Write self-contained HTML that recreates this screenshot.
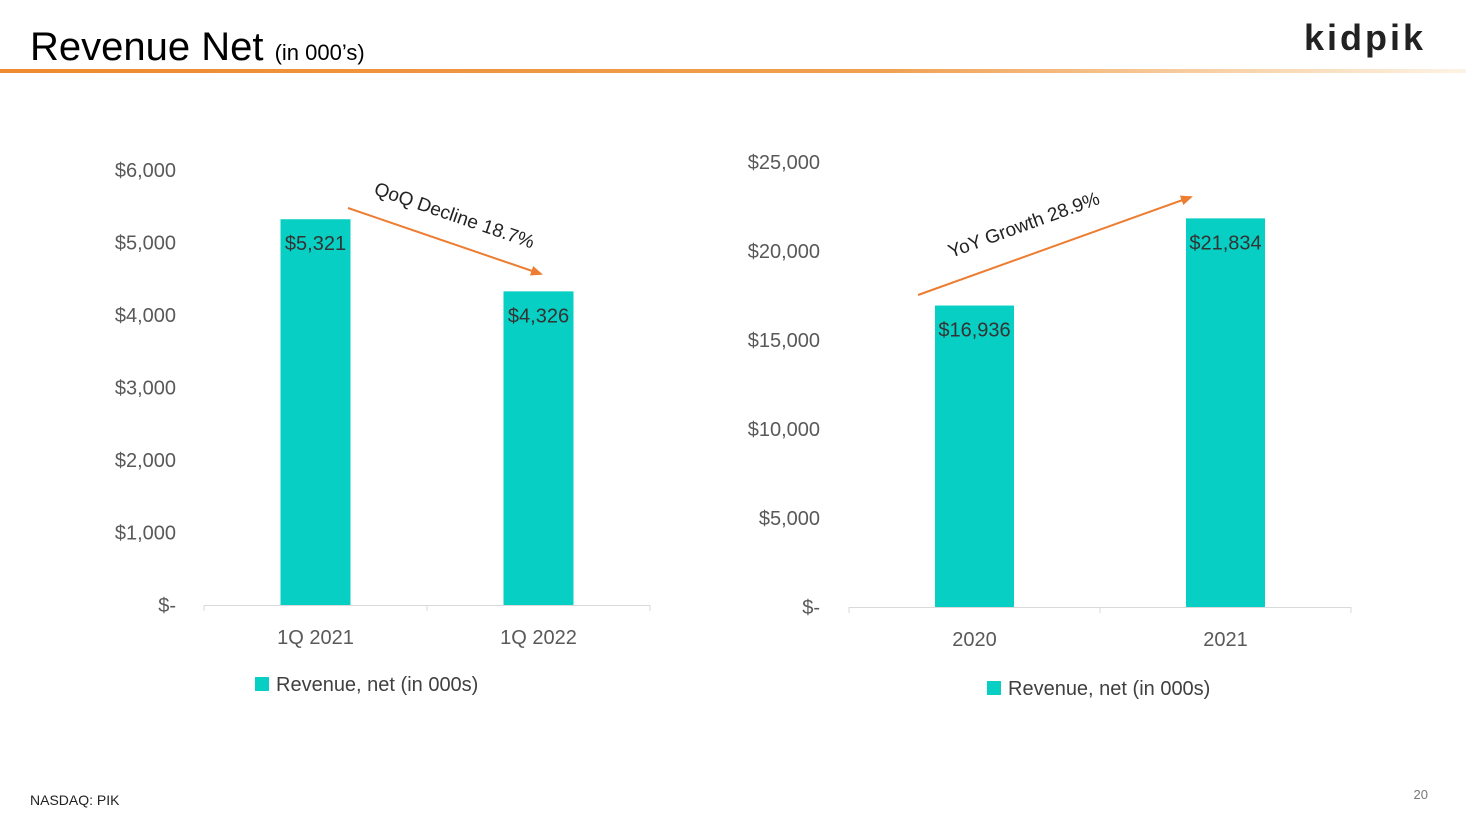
<!DOCTYPE html>
<html><head><meta charset="utf-8"><style>
body{margin:0;width:1466px;height:824px;overflow:hidden;background:#fff;font-family:"Liberation Sans","DejaVu Sans",sans-serif}
svg{position:absolute;left:0;top:0}
</style></head><body>
<svg id="s" width="1466" height="824">
<defs><linearGradient id="g" x1="0" x2="1"><stop offset="0" stop-color="#ee8a2f"/><stop offset="0.6" stop-color="#f0a050"/><stop offset="1" stop-color="#fdf3e4"/></linearGradient>
<marker id="ah" markerWidth="6" markerHeight="5" refX="5" refY="2.5" orient="auto"><path d="M0,0 L6,2.5 L0,5 z" fill="#ed7d31"/></marker></defs>
<text x="30" y="60" font-size="40" fill="#000">Revenue Net <tspan font-size="22">(in 000’s)</tspan></text>
<text x="1304" y="50" font-size="36" font-weight="bold" fill="#222" letter-spacing="3">kidpik</text>
<rect x="0" y="69" width="1466" height="4" fill="url(#g)"/>
<text x="30" y="805" font-size="14" fill="#222">NASDAQ: PIK</text>
<text x="1428" y="799" font-size="13" fill="#777" text-anchor="end">20</text>
<g id="c1"></g><g id="c2"></g>
<line x1="348" y1="208" x2="541" y2="274" stroke="#ed7d31" stroke-width="2" marker-end="url(#ah)"/>
<text transform="translate(373,194) rotate(19)" font-size="19" fill="#222">QoQ Decline 18.7%</text>
<line x1="918" y1="295" x2="1191" y2="197" stroke="#ed7d31" stroke-width="2" marker-end="url(#ah)"/>
<text transform="translate(951,258) rotate(-20)" font-size="19" fill="#222">YoY Growth 28.9%</text>
</svg>
<script>
const cats1=["1Q 2021","1Q 2022"];
const vals1=[5321,4326];
const ticks1=[0,1000,2000,3000,4000,5000,6000];
const cats2=["2020","2021"];
const vals2=[16936,21834];
const ticks2=[0,5000,10000,15000,20000,25000];
const NS="http://www.w3.org/2000/svg";
function mk(p,t,a){const e=document.createElementNS(NS,t);for(const k in a)e.setAttribute(k,a[k]);p.appendChild(e);return e;}
function fmt(v){return v===0?"$-":"$"+v.toLocaleString("en-US");}
function chart(gid,cats,vals,ticks,o){
 const g=document.getElementById(gid);
 const max=ticks[ticks.length-1];
 const y=v=>o.y0-(v/max)*(o.y0-o.yTop);
 const band=(o.x1-o.x0)/cats.length;
 const x=i=>o.x0+band*(i+0.5);
 ticks.forEach(t=>{const e=mk(g,"text",{x:o.tx,y:y(t)+7,"text-anchor":"end","font-size":20,fill:"#595959"});e.textContent=fmt(t);
  
  });
 const ax=mk(g,"line",{x1:o.x0,x2:o.x1,y1:o.y0+0.5,y2:o.y0+0.5,stroke:"#d9d9d9","stroke-width":1});
 
 
 for(let i=0;i<=cats.length;i++){const tk=mk(g,"line",{x1:o.x0+band*i,x2:o.x0+band*i,y1:o.y0,y2:o.y0+6,stroke:"#d9d9d9"});
  
  }
 cats.forEach((c,i)=>{
  const r=mk(g,"rect",{x:x(i)-o.bw/2,y:y(vals[i]),width:o.bw,height:o.y0-y(vals[i]),fill:"#08cfc3"});
  
  
  const v=mk(g,"text",{x:x(i),y:y(vals[i])+31,"text-anchor":"middle","font-size":20,fill:"#333"});v.textContent=fmt(vals[i]);
  
  
  const l=mk(g,"text",{x:x(i),y:o.y0+39,"text-anchor":"middle","font-size":20,fill:"#595959"});l.textContent=c;
  
  
 });
 const sq=mk(g,"rect",{x:o.lx,y:o.ly,width:14,height:14,fill:"#08cfc3"});
 
 
 const lt=mk(g,"text",{x:o.lx+21,y:o.ly+14,"font-size":20,fill:"#404040"});lt.textContent="Revenue, net (in 000s)";
 
 
}
chart("c1",cats1,vals1,ticks1,{x0:204,x1:650,y0:605,yTop:170,bw:70,tx:176,lx:255,ly:677});
chart("c2",cats2,vals2,ticks2,{x0:849,x1:1351,y0:607,yTop:162,bw:79,tx:820,lx:987,ly:681});
</script>
</body></html>
